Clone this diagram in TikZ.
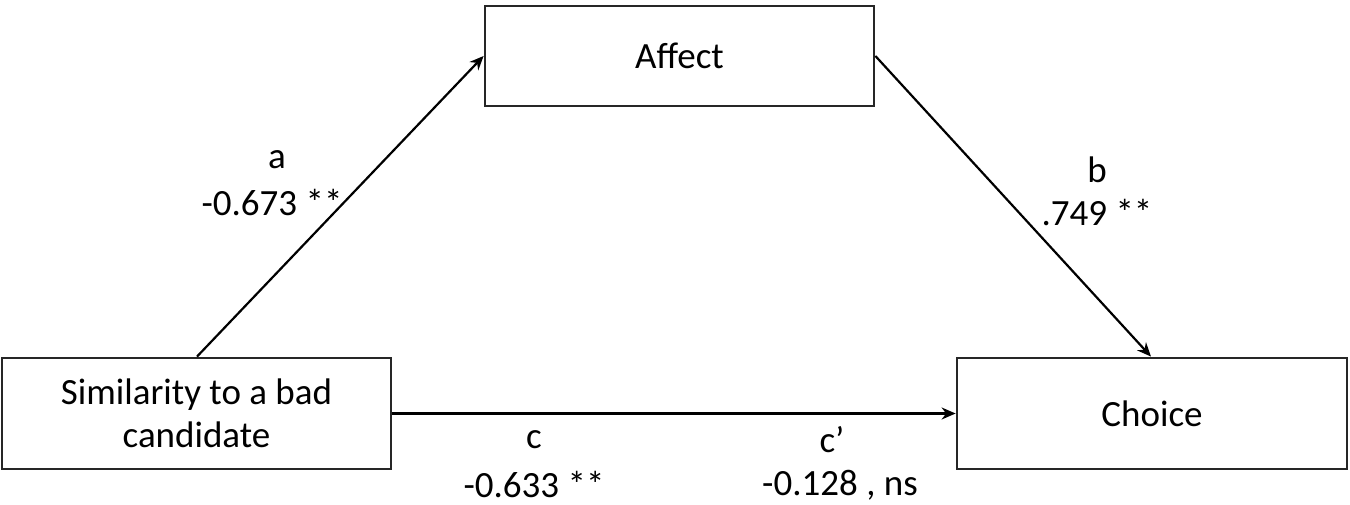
\documentclass[tikz,border=0pt]{standalone}
\usepackage{fontspec}
\setmainfont{Carlito}
\usetikzlibrary{arrows.meta}
\begin{document}
\begin{tikzpicture}[x=1pt,y=-1pt,
  box/.style={draw=black!85,line width=2.8pt,minimum width=389pt,inner sep=0pt,align=center,font=\fontsize{37}{43}\selectfont},
  lbl/.style={inner sep=0pt,align=center,font=\fontsize{37}{44}\selectfont},
  conn/.style={line width=2.2pt,-{Stealth[length=14pt,width=12pt]}}]
\useasboundingbox (0,0) rectangle (1350,505);
\fill[white] (0,0) rectangle (1350,505);
\node[box,minimum width=389pt,minimum height=100pt] (affect) at (679.5,56) {Affect};
\node[box,minimum width=389pt,minimum height=111pt] (sim) at (196.5,413.5) {Similarity to a bad\\candidate};
\node[box,minimum width=390pt,minimum height=111pt] (choice) at (1152,413.5) {Choice};
\draw[conn] (sim.north -| 197,0) -- (affect.west);
\draw[conn] (affect.east) -- (choice.north -| 1151,0);
\draw[conn] (sim.east) -- (choice.west);
\node[lbl] (la) at (277,160) {a};
\node[lbl] (lav) at (272,203) {-0.673 **};
\node[lbl] (lb) at (1097,170) {b};
\node[lbl] (lbv) at (1097,213) {.749 **};
\node[lbl] (lc) at (534,440) {c};
\node[lbl] (lcv) at (534,485) {-0.633 **};
\node[lbl] (lcp) at (832,440) {c’};
\node[lbl] (lcpv) at (840,485) {-0.128 , ns};
\end{tikzpicture}
\end{document}
